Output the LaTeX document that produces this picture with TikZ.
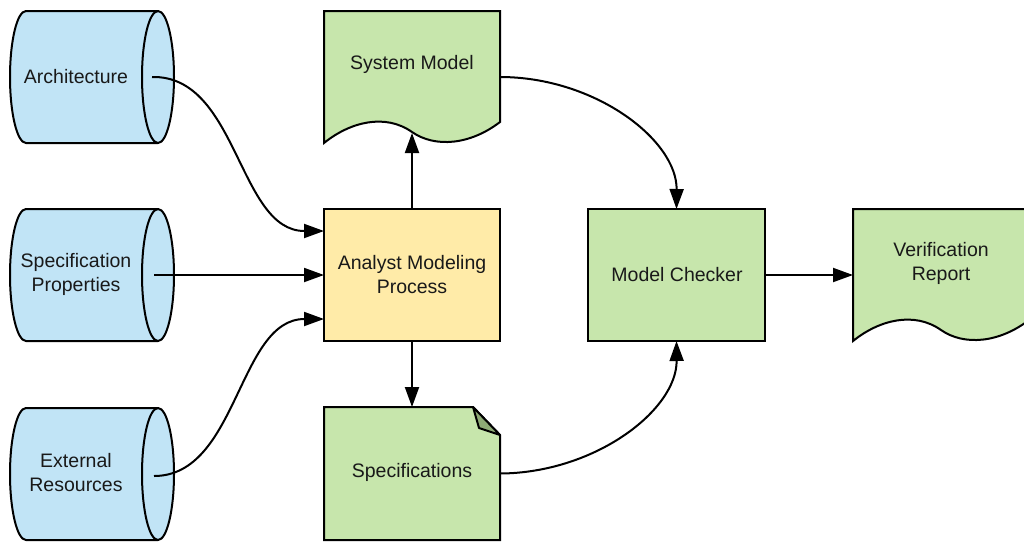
\documentclass[tikz,border=0pt]{standalone}
\usepackage{fontspec}
\setmainfont{Liberation Sans}
\usetikzlibrary{arrows.meta}
\definecolor{cylblue}{RGB}{193,228,246}
\definecolor{docgreen}{RGB}{199,230,172}
\definecolor{procyellow}{RGB}{255,235,168}
\definecolor{folddark}{RGB}{142,170,118}
\begin{document}
\begin{tikzpicture}[x=1pt,y=-1pt,
  font=\fontsize{19.5}{24}\selectfont,
  outline/.style={draw=black, line width=2pt, line join=miter},
  lbl/.style={align=center, inner sep=0pt, text=black!90, yshift=-1.5pt},
  frame/.style={minimum width=176pt, minimum height=132pt, inner sep=0pt, outer sep=0pt},
  cylframe/.style={minimum width=164pt, minimum height=132pt, inner sep=0pt, outer sep=0pt},
  conn/.style={line width=2pt, -{Triangle[length=20pt,width=14pt]}},
  cyl/.pic={
    \filldraw[outline, fill=cylblue] (-66,-66) -- (66,-66)
      arc[start angle=-90, end angle=90, x radius=16, y radius=66] -- (-66,66)
      arc[start angle=90, end angle=270, x radius=16, y radius=66] -- cycle;
    \draw[outline] (66,-66) arc[start angle=-90, end angle=-270, x radius=16, y radius=66];
  },
  docshape/.pic={
    \filldraw[outline, fill=docgreen] (-88,-66) -- (88,-66) -- (88,45)
      .. controls (58,68) and (23,71) .. (0,55)
      .. controls (-27,36) and (-62,45) .. (-88,66) -- cycle;
  }
]
\useasboundingbox (0,0) rectangle (1024,542);
\clip (0,0) rectangle (1024,542);

% cylinders
\pic at (92,77) {cyl};
\pic at (92,275) {cyl};
\pic at (92,474) {cyl};
\node[cylframe] (arch) at (92,77) {};
\node[cylframe] (props) at (92,275) {};
\node[cylframe] (ext) at (92,474) {};
\node[lbl] (archT) at (76,75) {Architecture};
\node[lbl] (propsT) at (76,273) {Specification\\Properties};
\node[lbl] (extT) at (76,471) {External\\Resources};

% documents with wavy bottom
\pic at (412,77) {docshape};
\pic at (941,275) {docshape};
\node[frame] (sm) at (412,77) {};
\node[frame] (vr) at (941,275) {};
\node[lbl] (smT) at (412,63) {System Model};
\node[lbl] (vrT) at (941,262) {Verification\\Report};

% analyst process and model checker
\node[frame, outline, fill=procyellow] (amp) at (412,275) {};
\node[lbl] (ampT) at (412,273) {Analyst Modeling\\Process};
\node[frame, outline, fill=docgreen, minimum width=177pt] (mc) at (676.5,275) {};
\node[lbl] (mcT) at (677,273) {Model Checker};

% specifications (folded corner)
\filldraw[outline, fill=docgreen] (324,407) -- (473,407) -- (500,435) -- (500,540) -- (324,540) -- cycle;
\filldraw[outline, fill=folddark, line join=round] (473,407) -- (479,428) -- (500,435) -- cycle;
\node[frame, minimum height=133pt] (sp) at (412,473.5) {};
\node[lbl] (spT) at (412,471) {Specifications};

% connectors
\draw[conn] ([xshift=-22pt]arch.east) .. controls (238,75) and (238,231) .. ([yshift=44pt]amp.west);
\draw[conn] ([xshift=-20pt]props.east) -- (amp.west);
\draw[conn] ([xshift=-20pt,yshift=-2pt]ext.east) .. controls (238,476) and (238,319) .. ([yshift=-44pt]amp.west);
\draw[conn] (amp.north) -- ([yshift=10pt]sm.south);
\draw[conn] (amp.south) -- (sp.north);
\draw[conn] (sm.east) .. controls (595,77) and (677,140) .. (mc.north);
\draw[conn] (sp.east) .. controls (595,473) and (677,410) .. (mc.south);
\draw[conn] (mc.east) -- (vr.west);
\end{tikzpicture}
\end{document}
